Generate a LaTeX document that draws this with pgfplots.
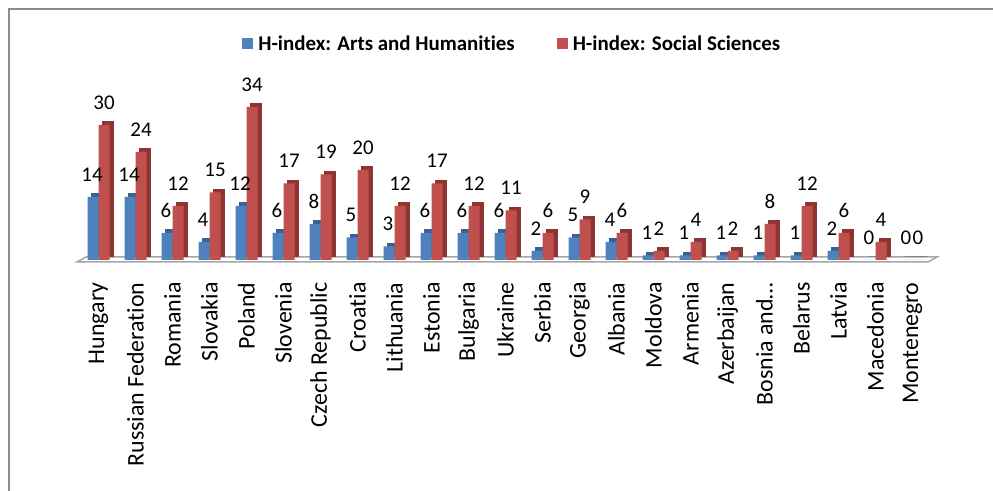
\documentclass[border=0pt]{standalone}
\usepackage{pgfplots}
\pgfplotsset{compat=1.18}
\usepackage{fontspec}
\setmainfont{Carlito}[RawFeature={-liga;-clig;-dlig;-calt}]
\definecolor{blueF}{HTML}{4F81BD}
\definecolor{blueD}{HTML}{3A6291}
\definecolor{redF}{HTML}{C0504D}
\definecolor{redD}{HTML}{8E3432}
\definecolor{frameG}{HTML}{8C8C8C}
\pgfplotstableread{
x ah ss
0 14 30
1 14 24
2 6 12
3 4 15
4 12 34
5 6 17
6 8 19
7 5 20
8 3 12
9 6 17
10 6 12
11 6 11
12 2 6
13 5 9
14 4 6
15 1 2
16 1 4
17 1 2
18 1 8
19 1 12
20 2 6
21 0 4
22 0 0
}\datatable
\begin{document}
\begin{tikzpicture}[x=1bp,y=1bp]
\useasboundingbox (0,0) rectangle (993,491);
\draw[frameG, line width=2bp] (9,0) -- (9,482) -- (993,482);
\begin{axis}[
  at={(80bp,231bp)}, anchor=south west,
  scale only axis, width=851bp, height=180bp,
  xmin=-0.5, xmax=22.5, ymin=0, ymax=40,
  axis line style={draw=none},
  tick style={draw=none},
  ytick=\empty,
  xtick={0,...,22},
  xticklabels={Hungary,Russian Federation,Romania,Slovakia,Poland,Slovenia,Czech Republic,Croatia,Lithuania,Estonia,Bulgaria,Ukraine,Serbia,Georgia,Albania,Moldova,Armenia,Azerbaijan,Bosnia and…,Belarus,Latvia,Macedonia,Montenegro},
  xticklabel style={yshift=-19bp, xshift=0bp, rotate=90, anchor=east, font=\fontsize{24}{26}\selectfont},
  /pgf/number format/assume math mode=true,
  every node near coord/.append style={font=\fontsize{21}{23}\selectfont, black, yshift=12bp},
  clip=false,
  legend style={at={(0.508,1.2)}, anchor=center, draw=none, legend columns=2,
    font=\fontsize{21}{23}\selectfont\bfseries,
    /tikz/every even column/.append style={column sep=40bp}},
  legend image code/.code={\fill[#1] (0bp,-5.5bp) rectangle (11bp,5.5bp); \path (11bp,0) -- (14bp,0);},
]
% floor
\draw[gray!70, line width=1.5bp, fill=white]
  ([shift={(-3bp,-2bp)}]axis cs:-0.5,0) -- ([shift={(-3bp,-2bp)}]axis cs:22.5,0)
  -- ([shift={(6bp,3bp)}]axis cs:22.5,0) -- ([shift={(6bp,3bp)}]axis cs:-0.5,0) -- cycle;
\addplot[ybar, bar width=11bp, bar shift=-5.5bp, fill=blueD, draw=blueD, line width=1bp, xshift=3.5bp, yshift=3bp, forget plot] table[x=x,y=ah]{\datatable};
\addplot[ybar, bar width=11bp, bar shift=-5.5bp, fill=blueF, draw=none, nodes near coords,
  every node near coord/.append style={xshift=-6.5bp}] table[x=x,y=ah]{\datatable};
\addlegendentry{H-index: Arts and Humanities}
\addplot[ybar, bar width=11bp, bar shift=5.5bp, fill=redD, draw=redD, line width=1bp, xshift=3.5bp, yshift=3bp, forget plot] table[x=x,y=ss]{\datatable};
\addplot[ybar, bar width=11bp, bar shift=5.5bp, fill=redF, draw=none, nodes near coords,
  every node near coord/.append style={xshift=5.5bp}] table[x=x,y=ss]{\datatable};
\addlegendentry{H-index: Social Sciences}
\end{axis}
\end{tikzpicture}
\end{document}
